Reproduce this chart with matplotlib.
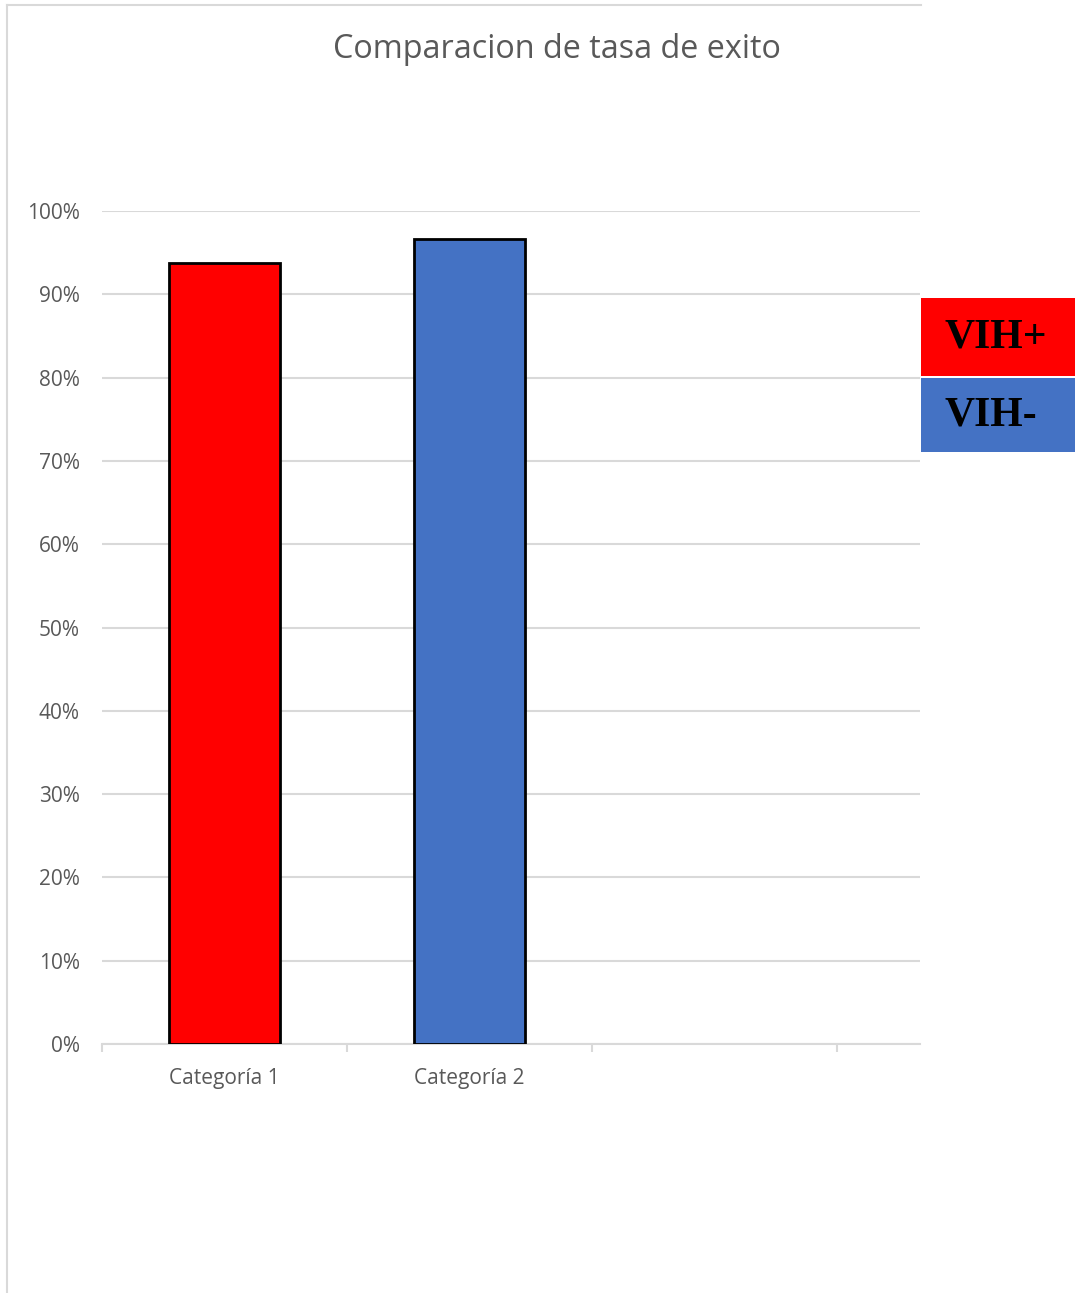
import matplotlib
matplotlib.use("Agg")
import matplotlib.pyplot as plt
from matplotlib.patches import Rectangle
from matplotlib.lines import Line2D
from matplotlib.ticker import PercentFormatter

# datos
categorias = ["Categoría 1", "Categoría 2"]
tasa_exito = [0.938, 0.966]
colores = ["#FF0000", "#4472C4"]
grupos = ["VIH+", "VIH-"]
titulo = "Comparacion de tasa de exito"

W, H = 1075, 1293
fig = plt.figure(figsize=(W / 100, H / 100), dpi=100)
fig.patch.set_facecolor("white")

gris = "#595959"
grid_c = "#D9D9D9"
fuente = "Open Sans"

# area del grafico: x 102..920 px, y 211..1044 px
ax = fig.add_axes([102 / W, 1 - 1044 / H, (920 - 102) / W, (1044 - 211) / H])

x = list(range(len(categorias)))
ax.bar(x, tasa_exito, width=0.455, color=colores, edgecolor="black", linewidth=2, zorder=3)

ax.set_ylim(0, 1)
ax.set_xlim(-0.5, -0.5 + (920 - 102) / 245)
ax.set_yticks([i / 10 for i in range(11)])
ax.yaxis.set_major_formatter(PercentFormatter(1.0, decimals=0))
ax.grid(axis="y", color=grid_c, linewidth=1.5, zorder=0)
ax.tick_params(axis="y", length=0, pad=16, labelsize=15, labelcolor=gris)
for t in ax.get_yticklabels():
    t.set_fontfamily(fuente)

# ticks de categoria: marcas en los bordes, etiquetas en el centro
ax.set_xticks([-0.5, 0.5, 1.5, 2.5])
ax.set_xticklabels([])
ax.tick_params(axis="x", which="major", length=6, width=1.5, color=grid_c)
ax.set_xticks(x, minor=True)
ax.set_xticklabels(categorias, minor=True, fontfamily=fuente, fontsize=15, color=gris)
ax.tick_params(axis="x", which="minor", length=0, pad=17)

for s in ["top", "right", "left"]:
    ax.spines[s].set_visible(False)
ax.spines["bottom"].set_color(grid_c)
ax.spines["bottom"].set_linewidth(1.5)

fig.text(557 / W, 1 - 49 / H, titulo, ha="center", va="center",
         fontsize=23.3, color=gris, fontfamily=fuente)

# borde del area del grafico
fig.add_artist(Line2D([7 / W, 921 / W], [1 - 5 / H, 1 - 5 / H], color=grid_c, linewidth=1.5))
fig.add_artist(Line2D([7 / W, 7 / W], [1 - 5 / H, 0], color=grid_c, linewidth=1.5))

# leyenda en cajas de color
cajas = [(298, 376), (378, 452)]
for nombre, c, (y0, y1) in zip(grupos, colores, cajas):
    fig.add_artist(Rectangle((921 / W, 1 - y1 / H), (W - 921) / W, (y1 - y0) / H,
                             transform=fig.transFigure, facecolor=c, edgecolor="none"))
    fig.text(944 / W, 1 - (y0 + y1) / 2 / H, nombre, ha="left", va="center",
             fontsize=30, fontweight="bold", fontfamily="Liberation Serif", color="black")

fig.savefig("out.png", dpi=100)
